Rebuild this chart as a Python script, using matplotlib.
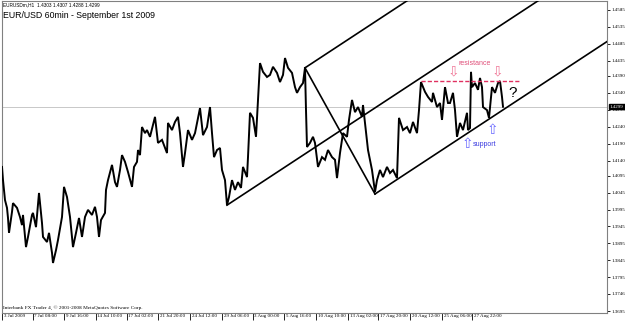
import matplotlib
matplotlib.use("Agg")
import matplotlib.pyplot as plt
from matplotlib.transforms import ScaledTranslation, blended_transform_factory

# ---------------- data (bar index = hourly bars, price) ----------------
bars = [0, 2, 6, 10, 12, 14, 20, 22, 30, 36, 40, 42, 48, 52, 60, 62, 68, 74, 80, 82,
        90, 94, 100, 102, 108, 112, 120, 124, 130, 136, 142, 148, 154, 160, 166, 172,
        180, 186, 190, 194, 198, 206, 208, 212, 220, 226, 230, 236, 240, 246, 252, 260,
        264, 270, 272, 276, 280, 286, 290, 296, 302, 306, 312, 320, 330, 332, 340, 346,
        352, 356, 362, 366, 372, 380, 386, 396, 402, 410, 416, 420, 424, 430, 436, 440,
        446, 450, 454, 460, 466, 472, 478, 482, 490, 492, 496, 502, 508, 512, 516, 522,
        530, 536, 542, 550, 556, 562, 566, 572, 580, 586, 590, 596, 602, 606, 608, 610,
        616, 622, 626, 632, 640, 646, 652, 660, 666, 670, 676, 682, 690, 694, 700, 706,
        712, 720, 722, 726, 732, 740, 746, 750, 756, 762, 770, 776, 782, 790, 794, 802,
        810, 816, 822, 830, 834, 838, 846, 852, 860, 862, 870, 876, 880, 886, 892, 896,
        902, 906, 910, 916, 922, 930, 932, 936, 938, 940, 946, 952, 956, 960, 962, 970,
        974, 980, 986, 992, 996, 1000, 1002]
prices = [1.4121, 1.4082, 1.4023, 1.4000, 1.3970, 1.3926, 1.3988, 1.4014, 1.4000, 1.3973,
          1.3949, 1.3979, 1.3884, 1.3914, 1.3979, 1.3985, 1.3943, 1.4044, 1.3955, 1.3914,
          1.3899, 1.3926, 1.3867, 1.3837, 1.3875, 1.3905, 1.3973, 1.4062, 1.4032, 1.3973,
          1.3884, 1.3926, 1.3970, 1.3914, 1.3973, 1.3994, 1.3979, 1.4003, 1.3973, 1.3914,
          1.3964, 1.3985, 1.4053, 1.4082, 1.4127, 1.4076, 1.4062, 1.4112, 1.4156, 1.4136,
          1.4106, 1.4062, 1.4121, 1.4136, 1.4171, 1.4156, 1.4239, 1.4221, 1.4230, 1.4210,
          1.4245, 1.4269, 1.4192, 1.4201, 1.4162, 1.4251, 1.4230, 1.4254, 1.4269, 1.4221,
          1.4121, 1.4162, 1.4230, 1.4201, 1.4221, 1.4295, 1.4215, 1.4239, 1.4298, 1.4221,
          1.4150, 1.4171, 1.4177, 1.4112, 1.4082, 1.4008, 1.4032, 1.4082, 1.4053, 1.4076,
          1.4059, 1.4121, 1.4091, 1.4150, 1.4281, 1.4266, 1.4210, 1.4319, 1.4428, 1.4402,
          1.4387, 1.4393, 1.4417, 1.4399, 1.4372, 1.4393, 1.4443, 1.4414, 1.4399, 1.4357,
          1.4340, 1.4357, 1.4369, 1.4414, 1.4289, 1.4180, 1.4192, 1.4210, 1.4192, 1.4121,
          1.4150, 1.4142, 1.4171, 1.4150, 1.4142, 1.4088, 1.4162, 1.4221, 1.4210, 1.4260,
          1.4319, 1.4283, 1.4298, 1.4269, 1.4304, 1.4251, 1.4171, 1.4112, 1.4047, 1.4082,
          1.4112, 1.4091, 1.4121, 1.4103, 1.4112, 1.4088, 1.4266, 1.4230, 1.4239, 1.4221,
          1.4254, 1.4221, 1.4289, 1.4372, 1.4343, 1.4328, 1.4313, 1.4340, 1.4298, 1.4310,
          1.4260, 1.4357, 1.4310, 1.4310, 1.4340, 1.4289, 1.4210, 1.4251, 1.4230, 1.4281,
          1.4230, 1.4236, 1.4402, 1.4357, 1.4369, 1.4349, 1.4384, 1.4357, 1.4298, 1.4289,
          1.4266, 1.4357, 1.4340, 1.4369, 1.4375, 1.4328, 1.4299]

# Andrews pitchfork anchors (pivot, reaction high, reaction low)
fork_bars = [450, 606, 746]
fork_prices = [1.4008, 1.4414, 1.4041]

resistance_price = 1.4375
resistance_bars = [838, 1034]
last_price = 1.4299

xtick_bars = [0, 62, 124, 187, 250, 312, 376, 440, 502, 564, 628, 692, 752, 816, 880, 940]
xtick_labels = ["3 Jul 2009", "7 Jul 08:00", "9 Jul 16:00", "14 Jul 10:00", "17 Jul 02:00",
                "21 Jul 20:00", "24 Jul 12:00", "29 Jul 06:00", "3 Aug 00:00", "5 Aug 16:00",
                "10 Aug 10:00", "13 Aug 02:00", "17 Aug 20:00", "20 Aug 12:00",
                "25 Aug 06:00", "27 Aug 22:00"]
ytick_vals = [1.4585, 1.4535, 1.4485, 1.4435, 1.4390, 1.4340, 1.4290, 1.4240, 1.4190,
              1.4140, 1.4095, 1.4045, 1.3995, 1.3945, 1.3895, 1.3845, 1.3795, 1.3746, 1.3695]

# ---------------- figure ----------------
W, H = 625, 322
fig = plt.figure(figsize=(W / 100, H / 100), dpi=100)
ax = fig.add_axes([2 / W, 9 / H, 605 / W, 312 / H])
ax.set_xlim(0, 1210)
ax.set_ylim(1.36891, 1.46116)

# current price line
ax.axhline(last_price, color="#c8c8c8", lw=0.7, zorder=0)

# price series
ax.plot(bars, prices, color="black", lw=1.4, zorder=3, solid_joinstyle="miter")

# pitchfork
(pb, ab, bb) = fork_bars
(pp, ap, bp) = fork_prices
mid_b = (ab + bb) / 2
mid_p = (ap + bp) / 2
slope = (mid_p - pp) / (mid_b - pb)
xend = 1210
for (x0, y0) in [(pb, pp), (ab, ap), (bb, bp)]:
    ax.plot([x0, xend], [y0, y0 + slope * (xend - x0)], color="black", lw=1.2, zorder=4)
ax.plot([ab, bb], [ap, bp], color="black", lw=1.2, zorder=4)

# resistance
ax.plot(resistance_bars, [resistance_price] * 2, color="#e03060", lw=1.0,
        ls=(0, (3, 1.5)), zorder=5)
ax.text(946, 1.4428, "resistance", color="#e0507a", fontsize=5.0, ha="center",
        va="center", family="Liberation Sans")
for xb in [902, 990]:
    ax.text(xb, 1.4402, "\u21e9", color="#f07898", fontsize=10, ha="center",
            va="center", family="DejaVu Sans")
ax.text(1022, 1.4340, "?", color="black", fontsize=11, ha="center", va="center",
        family="Liberation Sans")
for xb, yp in [(930, 1.4190), (980, 1.4230)]:
    ax.text(xb, yp, "\u21e7", color="#6a6aff", fontsize=10, ha="center",
            va="center", family="DejaVu Sans")
ax.text(942, 1.4186, "support", color="#3a3ae0", fontsize=5.0, ha="left",
        va="center", family="Liberation Sans")

# axes styling
for s in ax.spines.values():
    s.set_color("#808080")
    s.set_linewidth(0.8)
ax.yaxis.tick_right()
ax.set_yticks(ytick_vals)
ax.set_yticklabels([f"{v:.4f}" for v in ytick_vals], family="Liberation Serif")
ax.tick_params(axis="y", direction="out", length=2, width=0.6, pad=1.5,
               labelsize=3.6, colors="black")
ax.set_xticks(xtick_bars)
ax.set_xticklabels(xtick_labels, family="Liberation Serif")
ax.tick_params(axis="x", direction="out", length=5, width=0.6, pad=-4.2,
               labelsize=3.6, colors="black")
off = ScaledTranslation(1.5 / 100, 0, fig.dpi_scale_trans)
for lbl in ax.get_xticklabels():
    lbl.set_horizontalalignment("left")
    lbl.set_transform(lbl.get_transform() + off)

# last price box on the right axis
tr = blended_transform_factory(ax.transAxes, ax.transData)
ax.text(1.005, last_price, f"{last_price:.4f}", transform=tr, ha="left", va="center",
        fontsize=3.6, color="white", family="Liberation Serif",
        bbox=dict(boxstyle="square,pad=0.15", fc="black", ec="black"), zorder=10,
        clip_on=False)

# header texts
fig.text(3 / W, 1 - 5 / H, "EURUSDm,H1  1.4303 1.4307 1.4288 1.4299", fontsize=3.4,
         va="center", ha="left", family="Liberation Sans")
fig.text(3 / W, 1 - 15 / H, "EUR/USD 60min - September 1st 2009", fontsize=6.3,
         va="center", ha="left", family="Liberation Sans")
fig.text(3 / W, 1 - 308 / H,
         "Interbank FX Trader 4, \u00a9 2001-2008 MetaQuotes Software Corp.",
         fontsize=3.8, va="center", ha="left", family="Liberation Serif")

fig.savefig("out.png", dpi=100, facecolor="white")
